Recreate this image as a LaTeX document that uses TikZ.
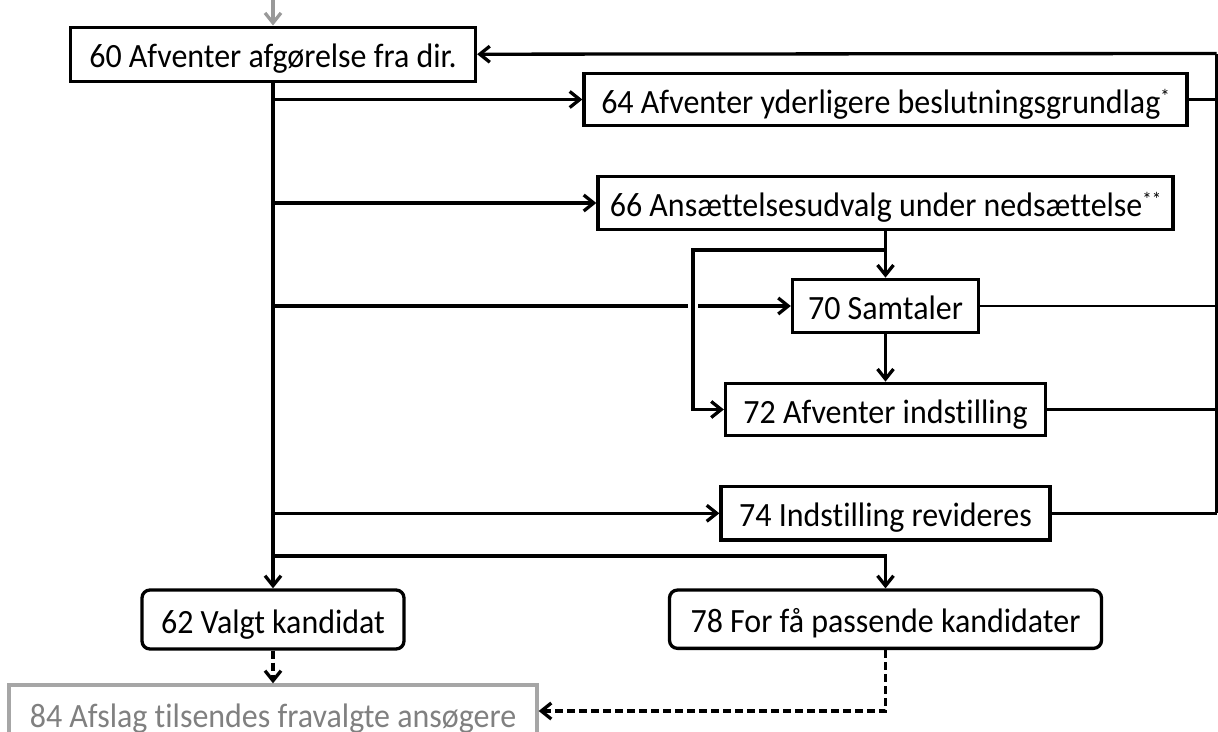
\documentclass[tikz,border=0pt]{standalone}
\usepackage{fontspec}
\setmainfont[FakeStretch=0.94, Ligatures={NoCommon}]{Carlito}
\usetikzlibrary{arrows.meta}
\newcommand{\supmark}[1]{\raisebox{10pt}{\fontsize{20}{20}\selectfont #1}}
\begin{document}
\begin{tikzpicture}[x=1pt,y=-1pt,
  pbox/.style={draw, line width=3.3pt, inner sep=0pt, text height=27pt, text depth=0pt,
    font=\fontsize{34}{40}\selectfont},
  rbox/.style={pbox, rounded corners=8pt},
  gbox/.style={pbox, draw=black!35, text=black!50, text height=32pt},
  conn/.style={line width=3.3pt},
  thinconn/.style={line width=2.5pt},
  arr/.style={-{Straight Barb[length=10pt,width=16pt]}},
  dsh/.style={dash pattern=on 8pt off 4pt}]
\useasboundingbox (0,0) rectangle (1218,731);
\clip (0,0) rectangle (1218,731);

\node[pbox, minimum width=405pt, minimum height=54pt] (n60) at (273,54.2) {60 Afventer afgørelse fra dir.};
\node[pbox, minimum width=603pt, minimum height=52.5pt] (n64) at (885.5,99.5) {64 Afventer yderligere beslutningsgrundlag\supmark{*}};
\node[pbox, minimum width=575pt, minimum height=52.6pt] (n66) at (885.5,203) {66 Ansættelsesudvalg under nedsættelse\supmark{**}};
\node[pbox, minimum width=186pt, minimum height=53.4pt] (n70) at (885.5,306) {70 Samtaler};
\node[pbox, minimum width=320pt, minimum height=52.4pt] (n72) at (885.5,409.5) {72 Afventer indstilling};
\node[pbox, minimum width=329pt, minimum height=53.3pt] (n74) at (885.5,513.3) {74 Indstilling revideres};
\node[rbox, minimum width=262pt, minimum height=59pt] (n62) at (273,619.5) {62 Valgt kandidat};
\node[rbox, minimum width=432pt, minimum height=58.3pt] (n78) at (885.5,619.2) {78 For få passende kandidater};
\node[gbox, minimum width=528pt, minimum height=52pt] (n84) at (273,711) {84 Afslag tilsendes fravalgte ansøgere};

\coordinate (in) at (273,0);
\coordinate (R0) at (1216.7,53.5);
\coordinate (R4) at (1216.7,513.3);
\coordinate (b78) at (273,556);
\coordinate (lp) at (885.5,250);
\coordinate (lc) at (693,250);
\coordinate (gL) at (688,306);
\coordinate (gR) at (698,306);

% incoming
\draw[conn, arr, draw=black!40] (in) -- (n60.north);
% return line on the right
\draw[thinconn] (R4) -- (R0);
\draw[conn, arr] (R0) -- (n60.east);
\draw[conn] (n64.east) -- (n64.east -| R0);
\draw[thinconn] (n70.east) -- (n70.east -| R0);
\draw[thinconn] (n72.east) -- (n72.east -| R0);
\draw[conn] (n74.east) -- (n74.east -| R0);

% spine and branches
\draw[conn, arr] (n60.south) -- (n62.north);
\draw[conn, arr] (n60.south |- n64.west) -- (n64.west);
\draw[conn, arr] (n60.south |- n66.west) -- (n66.west);
\draw[conn] (n60.south |- n70.west) -- (gL);
\draw[conn, arr] (gR) -- (n70.west);
\draw[conn, arr] (n60.south |- n74.west) -- (n74.west);
\draw[conn, arr] (b78) -| (n78.north);

% inner flow
\draw[conn, arr] (lp) -- (lc) |- (n72.west);
\draw[conn, arr] (n66.south) -- (n70.north);
\draw[conn, arr] (n70.south) -- (n72.north);

% dashed
\draw[conn, dsh, arr] (n62.south) -- (n84.north);
\draw[conn, dsh, arr] (n78.south) |- (n84.east);
\end{tikzpicture}
\end{document}
